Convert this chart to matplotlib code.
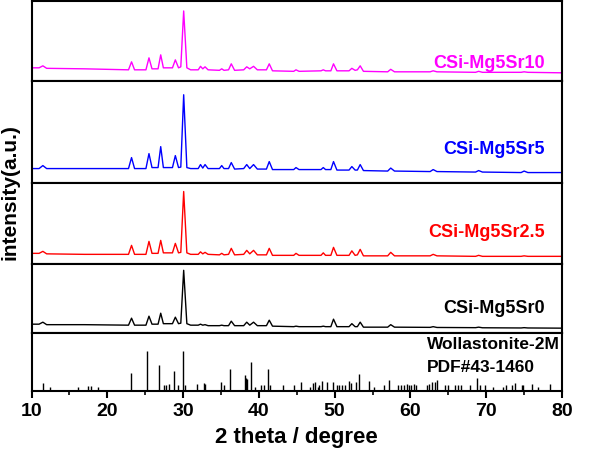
import matplotlib
matplotlib.use('Agg')
import matplotlib.pyplot as plt
from matplotlib.ticker import MultipleLocator

plt.rcParams['font.family'] = ['Liberation Sans', 'DejaVu Sans']
plt.rcParams['font.weight'] = 'bold'

# shared 2theta vertices (degree) for the measured patterns
two_theta = [10, 11.0, 11.5, 12.0, 17.0, 22.8, 23.2, 23.6, 25.1, 25.5, 25.9, 26.7,
             27.05, 27.4, 28.6, 28.98, 29.4, 29.7, 30.08, 30.5, 31.0, 32.0, 32.3,
             32.6, 32.9, 33.3, 34.8, 35.1, 35.4, 36.0, 36.36, 36.8, 38.0, 38.4,
             38.8, 39.3, 39.8, 41.0, 41.37, 41.8, 44.6, 44.9, 45.3, 48.2, 48.5,
             48.8, 49.5, 49.85, 50.3, 51.9, 52.27, 52.7, 53.0, 53.37, 53.8, 57.0,
             57.4, 57.9, 62.6, 63.0, 63.5, 68.6, 69.0, 69.5, 74.6, 75.0, 75.5, 80]

sr10 = [130, 130, 150, 125, 120, 110, 190, 110, 110, 230, 120, 120,
        260, 130, 130, 210, 130, 140, 700, 130, 110, 110, 145,
        120, 140, 110, 105, 120, 105, 110, 170, 105, 110, 140,
        120, 145, 110, 110, 170, 100, 95, 110, 95, 100, 110,
        100, 100, 170, 100, 100, 125, 105, 110, 150, 95, 90,
        115, 90, 90, 100, 90, 85, 95, 85, 85, 90, 85, 80]

sr5 = [140, 140, 170, 140, 140, 140, 250, 140, 140, 290, 150, 150,
       360, 150, 150, 270, 150, 155, 880, 150, 140, 140, 180,
       145, 180, 140, 140, 170, 140, 140, 200, 135, 140, 180,
       140, 180, 135, 135, 210, 130, 130, 150, 130, 130, 150,
       130, 130, 210, 125, 125, 160, 125, 125, 180, 120, 115,
       145, 115, 110, 130, 110, 105, 120, 105, 100, 115, 100, 100]

sr2_5 = [110, 110, 130, 105, 100, 100, 190, 100, 100, 230, 110, 110,
         240, 115, 115, 210, 115, 120, 730, 115, 100, 100, 125,
         105, 120, 100, 95, 110, 95, 100, 160, 95, 100, 140,
         105, 140, 95, 95, 160, 90, 90, 110, 90, 90, 115,
         90, 90, 170, 90, 90, 135, 90, 95, 150, 85, 85,
         120, 85, 85, 100, 85, 80, 90, 80, 80, 85, 80, 80]

sr0 = [90, 90, 110, 85, 85, 80, 150, 80, 80, 170, 90, 90,
       200, 95, 95, 160, 95, 100, 630, 95, 80, 80, 90,
       80, 85, 75, 75, 80, 75, 75, 120, 75, 75, 110,
       80, 110, 75, 75, 130, 70, 65, 70, 65, 65, 70,
       65, 65, 140, 65, 65, 95, 65, 65, 110, 60, 60,
       85, 60, 58, 65, 57, 55, 60, 54, 52, 55, 52, 50]

samples = ['CSi-Mg5Sr10', 'CSi-Mg5Sr5', 'CSi-Mg5Sr2.5', 'CSi-Mg5Sr0']
patterns = [sr10, sr5, sr2_5, sr0]
colors = ['#ff00ff', '#0000ff', '#ff0000', '#000000']

# Wollastonite-2M, PDF#43-1460 reference lines
ref_pos = [11.5, 12.5, 16.2, 17.4, 17.8, 18.8, 23.18, 25.29, 26.87, 27.44, 27.8,
           28.1, 28.8, 29.33, 29.99, 30.3, 31.88, 32.76, 32.94, 34.96, 35.35,
           36.14, 38.16, 38.3, 38.43, 39.0, 39.44, 40.23, 40.62, 41.2, 41.5,
           43.17, 44.7, 45.59, 46.78, 47.2, 47.4, 47.78, 48.0, 48.3, 48.97,
           49.72, 50.29, 50.6, 50.95, 51.39, 51.83, 52.18, 52.84, 53.19, 54.5,
           55.25, 56.57, 57.23, 58.4, 58.8, 59.2, 59.5, 59.8, 60.1, 60.5, 60.8,
           62.2, 62.5, 62.9, 63.2, 63.5, 64.6, 65.0, 65.9, 66.3, 66.7, 67.9,
           68.83, 69.2, 69.84, 70.94, 72.26, 72.6, 73.36, 73.8, 74.7, 74.9,
           76.0, 76.87, 78.4]
ref_int = [20, 11, 11, 12, 12, 11, 45, 100, 64, 16, 16,
           18, 50, 14, 100, 14, 18, 20, 18, 22, 16,
           54, 39, 32, 31, 73, 11, 14, 14, 54, 15,
           14, 16, 22, 11, 20, 22, 11, 14, 25, 22,
           22, 14, 14, 14, 14, 25, 20, 22, 42, 26,
           11, 15, 28, 14, 16, 15, 18, 16, 15, 17, 14,
           16, 18, 22, 22, 28, 14, 14, 14, 14, 14, 14,
           33, 14, 14, 11, 11, 14, 14, 20, 16, 16,
           18, 11, 18]

fig = plt.figure(figsize=(5.96, 4.53), dpi=100)
gs = fig.add_gridspec(5, 1, height_ratios=[80, 102, 82, 69, 58], hspace=0,
                      left=31.5 / 596, right=562 / 596, top=1 - 1 / 453,
                      bottom=1 - 391 / 453)
axes = [fig.add_subplot(gs[i]) for i in range(5)]

panel_top = [800, 1020, 820, 690]
label_y = [0.215, 0.32, 0.39, 0.36]
for ax, name, y, c, top, ly in zip(axes[:4], samples, patterns, colors, panel_top, label_y):
    ax.plot(two_theta, y, color=c, lw=1.0)
    ax.set_ylim(0, top)
    ax.text(0.968, ly, name, color=c, fontsize=13, fontweight='bold',
            ha='right', va='center', transform=ax.transAxes)

axes[4].vlines(ref_pos, 0, ref_int, color='black', lw=1.0)
axes[4].set_ylim(0, 145)
axes[4].text(0.745, 0.81, 'Wollastonite-2M', fontsize=12.5, fontweight='bold',
             ha='left', va='center', transform=axes[4].transAxes)
axes[4].text(0.745, 0.41, 'PDF#43-1460', fontsize=12.5, fontweight='bold',
             ha='left', va='center', transform=axes[4].transAxes)

for ax in axes:
    ax.set_xlim(10, 80)
    ax.set_yticks([])
    for s in ax.spines.values():
        s.set_linewidth(1.5)
    if ax is not axes[4]:
        ax.set_xticks([])

axes[4].xaxis.set_major_locator(MultipleLocator(10))
axes[4].xaxis.set_minor_locator(MultipleLocator(5))
axes[4].tick_params(axis='x', which='major', direction='out', length=5, width=1.5,
                    labelsize=14, pad=4)
axes[4].tick_params(axis='x', which='minor', direction='out', length=3, width=1.2)
for lab in axes[4].get_xticklabels():
    lab.set_fontweight('bold')
axes[4].set_xlabel('2 theta / degree', fontsize=16, fontweight='bold', labelpad=5)

fig.text(0.017, 1 - 192 / 453, 'intensity(a.u.)', rotation=90, fontsize=15,
         fontweight='bold', ha='center', va='center')

fig.savefig('out.png', dpi=100)
